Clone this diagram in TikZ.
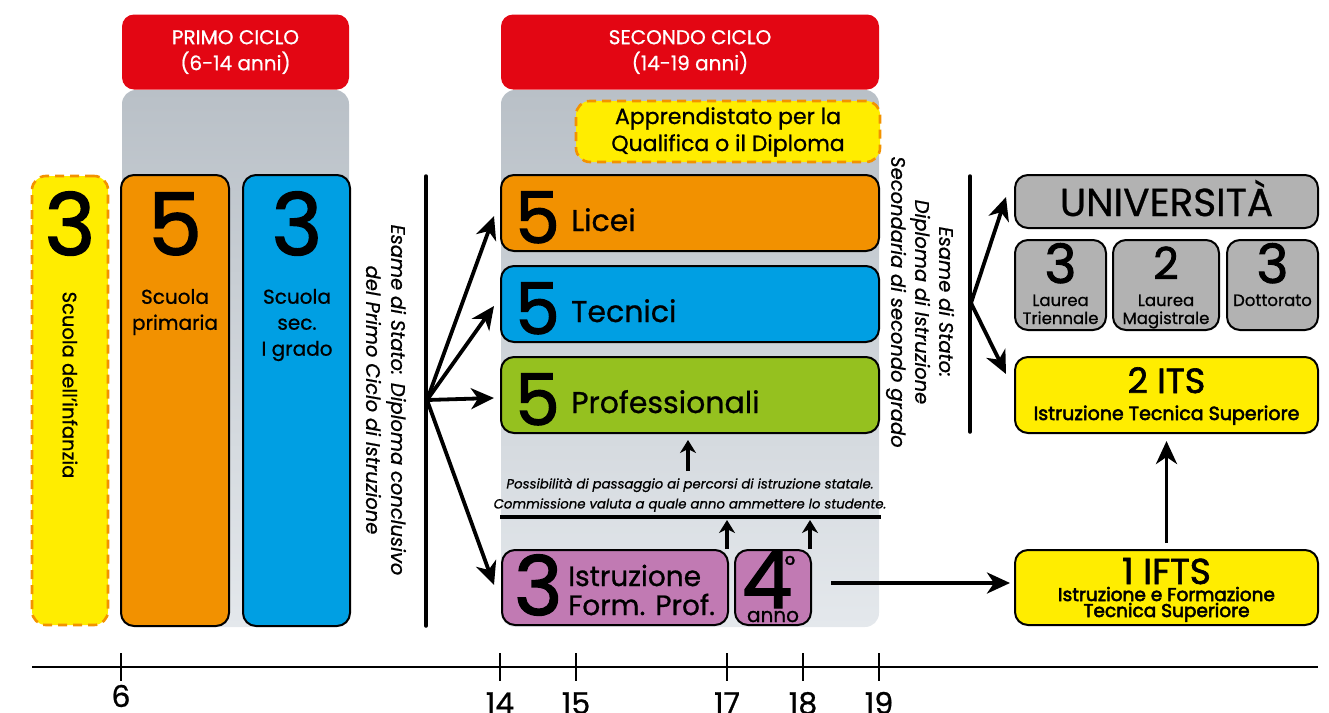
\documentclass[tikz,border=0pt]{standalone}
\usepackage{fontspec}
\setmainfont{Poppins}[FakeBold=0.8]
\newfontfamily\semib{Poppins}[FakeBold=1.8]
\newfontfamily\semibb{Poppins}[FakeBold=2.8]
\usetikzlibrary{arrows.meta}
\definecolor{redC}{HTML}{E30613}
\definecolor{orangeC}{HTML}{F29100}
\definecolor{blueC}{HTML}{009FE3}
\definecolor{greenC}{HTML}{95C11F}
\definecolor{purpleC}{HTML}{C17AB3}
\definecolor{yellowC}{HTML}{FFED00}
\definecolor{uniC}{HTML}{B2B2B2}
\definecolor{bgTop}{HTML}{B9C0C7}
\definecolor{bgBot}{HTML}{E4E8EC}
\definecolor{dashC}{HTML}{F39200}
\newcommand{\fs}[2]{\fontsize{#1}{#2}\selectfont}
\tikzset{
  box/.style={draw=black, line width=2pt, rounded corners=13pt, inner sep=0pt},
  dbox/.style={draw=dashC, line width=2.6pt, dash pattern=on 9pt off 6pt, rounded corners=14pt, inner sep=0pt, fill=yellowC},
  header/.style={fill=redC, rounded corners=12pt, inner sep=0pt, text=white, align=center, font=\fs{20}{26}},
  arr/.style={line width=3.8pt, -{Stealth[length=23pt,width=21pt,inset=7pt]}},
  sarr/.style={line width=3.5pt, -{Stealth[length=13pt,width=16pt,inset=4pt]}},
  bar/.style={line width=3.5pt, line cap=round},
  txt/.style={inner sep=0pt, align=center},
  bt/.style={inner sep=0pt, anchor=base},
  btw/.style={inner sep=0pt, anchor=base west},
  tick/.style={line width=2pt}
}
\begin{document}
\begin{tikzpicture}[x=1pt,y=-1pt]
\useasboundingbox (0,0) rectangle (1329,712);
% backgrounds
\shade[top color=bgTop, bottom color=bgBot, rounded corners=14pt] (122,90) rectangle (349,627);
\shade[top color=bgTop, bottom color=bgBot, rounded corners=14pt] (501,90) rectangle (879,627);
\node[header, minimum width=227pt, minimum height=75pt] (h1) at (235.5,52) {PRIMO CICLO\\(6-14 anni)};
\node[header, minimum width=378pt, minimum height=75pt] (h2) at (690,52) {SECONDO CICLO\\(14-19 anni)};

% primo ciclo
\node[dbox, minimum width=76pt, minimum height=449pt] (inf) at (70,400.5) {};
\node[bt, font=\semib\fs{86}{86}] (inf3) at (70,255) {3};
\node[txt, font=\fs{19.5}{24}, rotate=-90] (inft) at (70,385) {Scuola dell'infanzia};
\node[box, fill=orangeC, minimum width=108pt, minimum height=451pt] (prim) at (175,400.5) {};
\node[bt, font=\semib\fs{86}{86}] (prim5) at (175,255) {5};
\node[txt, font=\fs{20}{26}] (primt) at (175,312) {Scuola\\primaria};
\node[box, fill=blueC, minimum width=107pt, minimum height=451pt] (sec) at (296.5,400.5) {};
\node[bt, font=\semib\fs{86}{86}] (sec3) at (297,255) {3};
\node[txt, font=\fs{20}{26}] (sect) at (297,325) {Scuola\\sec.\\I grado};

\node[txt, font=\itshape\fs{19.5}{25}, rotate=-90] (esame1) at (386,400) {Esame di Stato: Diploma conclusivo\\del Primo Ciclo di Istruzione};
\coordinate (b1t) at (426,176);
\coordinate (b1b) at (426,626);
\draw[bar] (b1t) -- (b1b);
\coordinate (fork1) at (427,400);

% secondo ciclo
\node[dbox, minimum width=304pt, minimum height=61pt] (appr) at (728,131.5) {};
\node[txt, font=\fs{22}{27}] (apprt) at (728,132) {Apprendistato per la\\Qualifica o il Diploma};

\node[box, fill=orangeC, minimum width=378pt, minimum height=76pt] (licei) at (690,213) {};
\node[btw, font=\semib\fs{71}{71}] (licei5) at (515,243) {5};
\node[btw, font=\fs{30}{30}] (liceit) at (571,231) {Licei};
\node[box, fill=blueC, minimum width=378pt, minimum height=76pt] (tecn) at (690,304) {};
\node[btw, font=\semib\fs{71}{71}] (tecn5) at (515,334) {5};
\node[btw, font=\fs{30}{30}] (tecnt) at (571,322) {Tecnici};
\node[box, fill=greenC, minimum width=378pt, minimum height=76pt] (prof) at (690,395) {};
\node[btw, font=\semib\fs{71}{71}] (prof5) at (515,425) {5};
\node[btw, font=\fs{30}{30}] (proft) at (571,413) {Professionali};

\draw[arr] (fork1) -- (494,216);
\draw[arr] (fork1) -- (494,306);
\draw[arr] (fork1) -- (494,398);
\draw[arr] (fork1) -- (494,585);

\node[txt, font=\itshape\fs{13.3}{20}] (poss) at (690,495) {Possibilità di passaggio ai percorsi di istruzione statale.\\Commissione valuta a quale anno ammettere lo studente.};
\coordinate (pa) at (688,471);
\coordinate (pb) at (688,440);
\draw[sarr] (pa) -- (pb);
\coordinate (l1) at (500,517);
\coordinate (l2) at (881,517);
\draw[line width=4pt] (l1) -- (l2);

\node[box, fill=purpleC, minimum width=226pt, minimum height=75pt] (ifp) at (615,587.5) {};
\node[btw, font=\semib\fs{82}{82}] (ifp3) at (514,615) {3};
\node[txt, font=\fs{28}{29}, align=left, anchor=west] (ifpt) at (568,590) {Istruzione\\Form. Prof.};
\node[box, fill=purpleC, minimum width=76pt, minimum height=75pt] (quarto) at (773,587.5) {};
\node[bt, font=\semib\fs{80}{80}] (q4) at (767,608) {4};
\node[bt, font=\fs{26}{26}] (qdeg) at (790,574) {°};
\node[bt, font=\fs{20}{20}] (qanno) at (773,622) {anno};

\coordinate (u1) at (727,520);
\coordinate (u2) at (810,520);
\draw[sarr] (ifp.north -| u1) -- (u1);
\draw[sarr] (quarto.north -| u2) -- (u2);

% esame 2
\node[txt, font=\itshape\fs{19.5}{24}, rotate=-90] (esame2) at (920,302) {Esame di Stato:\\Diploma di Istruzione\\Secondaria di secondo grado};
\coordinate (b2t) at (970,176);
\coordinate (b2b) at (970,432);
\draw[bar] (b2t) -- (b2b);
\coordinate (fork2) at (971,303);

% university side
\node[box, fill=uniC, minimum width=303pt, minimum height=53pt] (uni) at (1166.5,201.5) {};
\node[bt, font=\fs{39}{39}] (unit) at (1166.5,216) {UNIVERSITÀ};
\node[box, fill=uniC, minimum width=91pt, minimum height=90pt] (lt) at (1060.5,285) {};
\node[box, fill=uniC, minimum width=106pt, minimum height=90pt] (lm) at (1166,285) {};
\node[box, fill=uniC, minimum width=91pt, minimum height=90pt] (dott) at (1272.5,285) {};
\node[bt, font=\semib\fs{54}{54}] (lt3) at (1060.5,283) {3};
\node[bt, font=\semib\fs{44}{44}] (lm2) at (1166,279) {2};
\node[bt, font=\semib\fs{54}{54}] (dott3) at (1272.5,283) {3};
\node[bt, font=\fs{16.5}{18}] (ltt1) at (1060.5,306) {Laurea};
\node[bt, font=\fs{16.5}{18}] (ltt2) at (1060.5,324) {Triennale};
\node[bt, font=\fs{16.5}{18}] (lmt1) at (1166,306) {Laurea};
\node[bt, font=\fs{16.5}{18}] (lmt2) at (1166,324) {Magistrale};
\node[bt, font=\fs{16.5}{18}] (dottt) at (1272.5,306) {Dottorato};

\node[box, fill=yellowC, minimum width=303pt, minimum height=76pt] (its) at (1166.5,395) {};
\node[bt, font=\semib\fs{35}{35}] (itst) at (1166.5,393) {2 ITS};
\node[bt, font=\semibb\fs{19}{20}] (itss) at (1166.5,420) {Istruzione Tecnica Superiore};

\node[box, fill=yellowC, minimum width=303pt, minimum height=75pt] (ifts) at (1166.5,587.5) {};
\node[bt, font=\semib\fs{36}{36}] (iftst) at (1166.5,584) {1 IFTS};
\node[bt, font=\semibb\fs{18.5}{18}] (iftss1) at (1166.5,601) {Istruzione e Formazione};
\node[bt, font=\semibb\fs{18.5}{18}] (iftss2) at (1166.5,617) {Tecnica Superiore};

\draw[arr] (fork2) -- (1006,197);
\draw[arr] (fork2) -- (1006,374);
\coordinate (qa) at (831,583);
\draw[arr] (qa) -- (1010,583);
\draw[arr] ([yshift=6pt]ifts.north) -- ([yshift=-7pt]its.south);

% timeline
\coordinate (t0) at (32,667);
\coordinate (t1) at (1318,667);
\draw[line width=2.5pt] (t0) -- (t1);
\foreach \x/\l in {121/6,500/14,576/15,727/17,803/18,879/19}{
  \draw[tick] (\x,653) -- (\x,681);
}
\node[bt, font=\fs{30}{30}] (l6) at (121,707) {6};
\foreach \x/\l in {500/14,576/15,727/17,803/18,879/19}{
  \node[bt, font=\fs{30}{30}] (lab\l) at (\x,714) {\l};
}
\end{tikzpicture}
\end{document}
